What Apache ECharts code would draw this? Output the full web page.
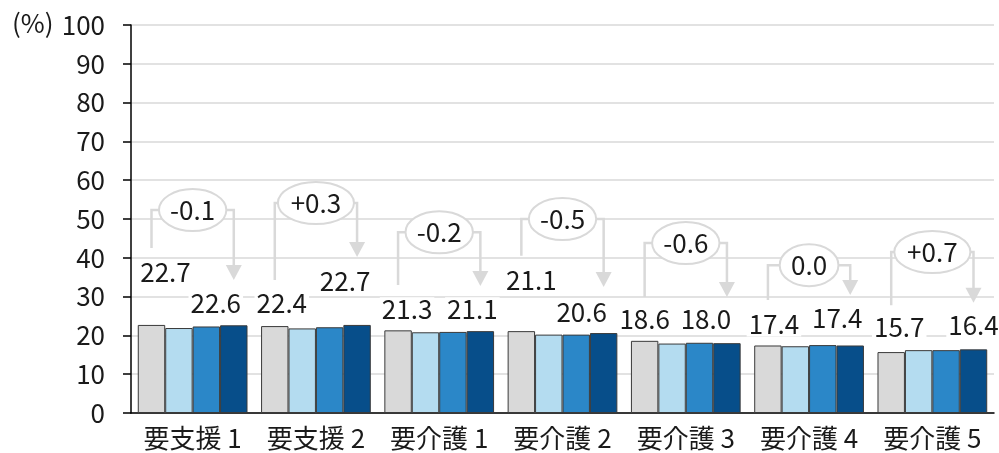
<!DOCTYPE html>
<html>
<head>
<meta charset="utf-8">
<script src="https://cdn.jsdelivr.net/npm/echarts@6/dist/echarts.min.js"></script>
<style>
  html, body { margin: 0; padding: 0; background: #fff; }
  #chart { width: 999px; height: 453px; }
</style>
</head>
<body>
<div id="chart"></div>
<script>
// 区分
var categories = ['要支援 1', '要支援 2', '要介護 1', '要介護 2', '要介護 3', '要介護 4', '要介護 5'];
// 4系列（左から）
var series1 = [22.7, 22.4, 21.3, 21.1, 18.6, 17.4, 15.7];
var series2 = [21.9, 21.8, 20.8, 20.2, 17.9, 17.2, 16.2];
var series3 = [22.3, 22.1, 20.9, 20.2, 18.1, 17.5, 16.2];
var series4 = [22.6, 22.7, 21.1, 20.6, 18.0, 17.4, 16.4];
var barColors = ['#d9d9d9', '#b4dcf0', '#2b87c8', '#074e8a'];

// ラベルのずらし量 [dx, dy] (px)
var firstLabelShift = [[14, -41], [7, -11], [9, -9], [10, -39], [0, -10], [6, -9], [8, -13]];
var lastLabelShift = [[-18, -10], [-12, -32], [-8, -10], [-22, -9], [-21, -12], [-13, -15], [0, -12]];
// 矢印の高さ（軸の値）：上辺・左の起点・矢印の先
var bracketTop = [52.3, 54.1, 46.6, 50.0, 43.8, 38.1, 41.5];
var bracketFrom = [42.5, 34.3, 33.0, 40.5, 29.9, 29.1, 27.8];
var bracketTo = [34.3, 40.2, 32.7, 32.5, 29.9, 30.4, 28.4];

var FONT = 'Noto Sans CJK JP';
var FS = 26;
var TXT = '#1a1a1a';
var LINE = '#d9d9d9';
var GAP = 0.11;

function labelled(values, shifts) {
  return values.map(function (v, i) {
    return { value: v, label: { show: true, offset: shifts[i] } };
  });
}

function diffText(a, b) {
  var d = Math.round((b - a) * 10) / 10;
  var s = Math.abs(d).toFixed(1);
  if (d > 0) return '+' + s;
  if (d < 0) return '-' + s;
  return s;
}

function textWidth(t) {
  var w = 0;
  for (var i = 0; i < t.length; i++) {
    var c = t[i];
    if (c === '.') w += 6.5;
    else if (c === '-') w += 8;
    else if (c === '+') w += 16;
    else w += 13.7;
  }
  return w;
}

var valueLabel = {
  show: false,
  position: 'top',
  distance: 0,
  fontFamily: FONT,
  fontSize: FS,
  lineHeight: 24,
  color: TXT,
  backgroundColor: '#fff',
  padding: [0, 2],
  formatter: function (p) { return p.value.toFixed(1); }
};

var chart = echarts.init(document.getElementById('chart'));

var option = {
  animation: false,
  grid: { left: 131, right: 5, top: 25, bottom: 40 },
  xAxis: {
    type: 'category',
    data: categories,
    axisLine: { lineStyle: { color: '#000', width: 1.5 } },
    axisTick: { length: 7, lineStyle: { color: '#000', width: 1.5 } },
    axisLabel: { fontFamily: FONT, fontSize: FS, color: TXT, margin: 12, interval: 0, hideOverlap: false }
  },
  yAxis: {
    type: 'value',
    min: 0,
    max: 100,
    interval: 10,
    axisLine: { show: true, lineStyle: { color: '#000', width: 1.5 } },
    axisTick: { show: true, length: 8, lineStyle: { color: '#000', width: 1.5 } },
    axisLabel: { fontFamily: FONT, fontSize: FS, color: TXT, margin: 26 },
    splitLine: { lineStyle: { color: LINE, width: 1.5 } }
  },
  series: [
    { type: 'bar', data: labelled(series1, firstLabelShift), label: valueLabel },
    { type: 'bar', data: series2 },
    { type: 'bar', data: series3 },
    { type: 'bar', data: labelled(series4, lastLabelShift), label: valueLabel }
  ].map(function (s, k) {
    s.barGap = 0;
    s.barCategoryGap = (GAP * 100) + '%';
    s.itemStyle = { color: barColors[k], borderColor: '#3a3a3a', borderWidth: 1 };
    s.z = 2;
    return s;
  })
};

chart.setOption(option);

// 増減の矢印と楕円
var graphics = [{
  type: 'text', left: 12, top: 10,
  style: { text: '(%)', font: FS + 'px "' + FONT + '"', fill: TXT }
}];

var x0 = chart.convertToPixel({ gridIndex: 0 }, [0, 0])[0];
var x1 = chart.convertToPixel({ gridIndex: 0 }, [1, 0])[0];
var barW = (x1 - x0) * (1 - GAP) / 4;

categories.forEach(function (c, i) {
  var cx = chart.convertToPixel({ gridIndex: 0 }, [i, 0])[0];
  var xl = cx - 1.5 * barW;
  var xr = cx + 1.5 * barW;
  var yTop = chart.convertToPixel({ gridIndex: 0 }, [i, bracketTop[i]])[1];
  var yFrom = chart.convertToPixel({ gridIndex: 0 }, [i, bracketFrom[i]])[1];
  var yTo = chart.convertToPixel({ gridIndex: 0 }, [i, bracketTo[i]])[1];
  var head = 15;
  graphics.push({
    type: 'polyline', z: 10,
    shape: { points: [[xl, yFrom], [xl, yTop], [xr, yTop], [xr, yTo - head + 1]] },
    style: { stroke: LINE, lineWidth: 2.5, fill: null }
  });
  graphics.push({
    type: 'polygon', z: 10,
    shape: { points: [[xr - 8, yTo - head], [xr + 8, yTo - head], [xr, yTo]] },
    style: { fill: LINE }
  });
  var t = diffText(series1[i], series4[i]);
  var rx = (textWidth(t) * FS / 24 + 22) / 2;
  graphics.push({
    type: 'ellipse', z: 11,
    shape: { cx: (xl + xr) / 2, cy: yTop, rx: rx, ry: 21 },
    style: { fill: '#fff', stroke: LINE, lineWidth: 2 }
  });
  graphics.push({
    type: 'text', z: 12,
    x: (xl + xr) / 2, y: yTop,
    style: { text: t, font: FS + 'px "' + FONT + '"', fill: TXT, align: 'center', verticalAlign: 'middle' }
  });
});

chart.setOption({ graphic: graphics });
</script>
</body>
</html>
